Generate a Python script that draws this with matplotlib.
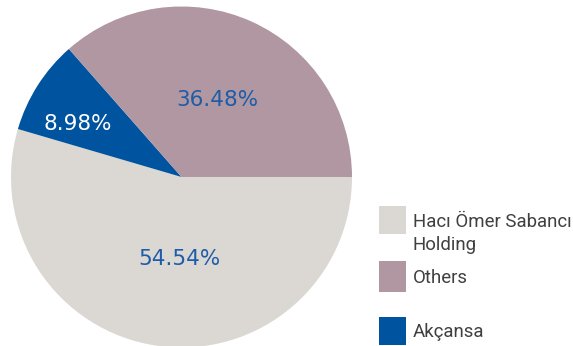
import matplotlib
matplotlib.use("Agg")
import matplotlib.pyplot as plt
from matplotlib.patches import Rectangle

categories = ["Hacı Ömer Sabancı\nHolding", "Akçansa", "Others"]
values = [54.54, 8.98, 36.48]
colors = ["#dbd7d3", "#00539e", "#b097a2"]
label_colors = ["#1d5ca8", "#ffffff", "#1d5ca8"]
legend_order = [0, 2, 1]

plt.rcParams['font.family'] = ['Roboto', 'DejaVu Sans']

W, H = 573, 346
fig = plt.figure(figsize=(W/100, H/100), dpi=100)
cx, cy, r = 181.5, 177, 170.5
ax = fig.add_axes([(cx - r)/W, (H - cy - r)/H, 2*r/W, 2*r/H])

wedges, texts, autotexts = ax.pie(values, colors=colors, startangle=0, counterclock=False,
                                  radius=1, autopct='%.2f%%', pctdistance=0.5,
                                  wedgeprops=dict(linewidth=0),
                                  textprops=dict(fontsize=15.5, family=['DejaVu Sans']))
ax.set_xlim(-1, 1); ax.set_ylim(-1, 1)
ax.set_aspect('equal')
ax.axis('off')
for w in wedges:
    w.set_clip_on(False)
# label positions (fractions of radius)
pos = [(-0.01, -0.48), (-0.61, 0.31), (0.21, 0.45)]
for t, c, p in zip(autotexts, label_colors, pos):
    t.set_color(c)
    t.set_position(p)
    t.set_ha('center'); t.set_va('center')

# legend (manual, like the reference)
boxes = [(379, 206, 28), (379, 261, 31), (379, 317, 28)]
baselines = [227, 283, 337]
pitch = 23
for (bx, by, hh), base, i in zip(boxes, baselines, legend_order):
    fig.patches.append(Rectangle((bx/W, 1 - (by + hh)/H), 27/W, hh/H,
                                 transform=fig.transFigure, facecolor=colors[i],
                                 edgecolor='none'))
    for k, line in enumerate(categories[i].split("\n")):
        fig.text(413/W, 1 - (base + k*pitch)/H, line, ha='left', va='baseline',
                 fontsize=13.4, color='#404040')

fig.savefig("out.png", dpi=100)
